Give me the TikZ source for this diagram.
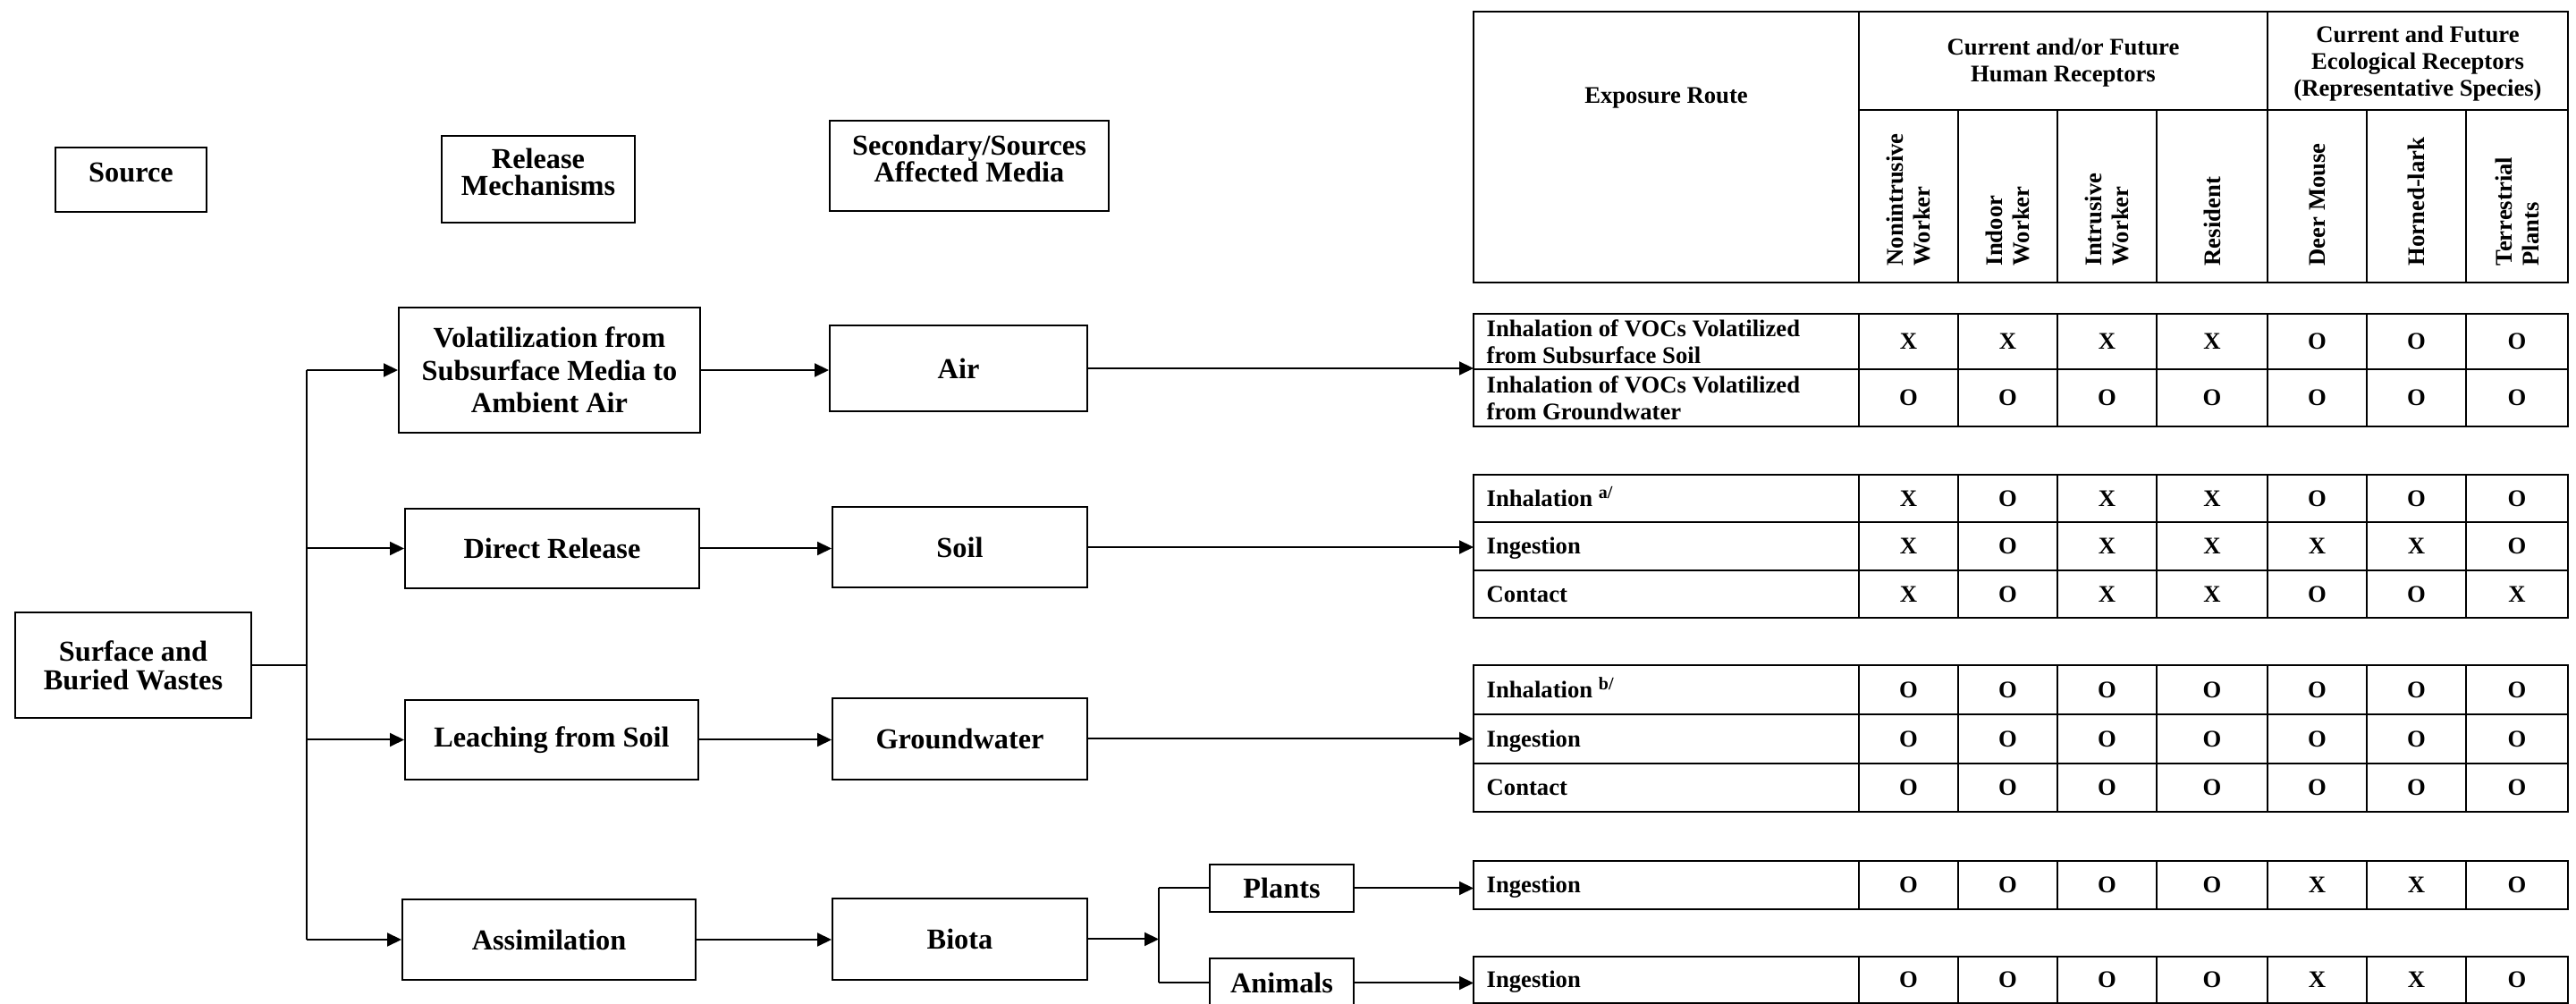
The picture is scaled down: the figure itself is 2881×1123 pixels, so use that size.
\documentclass[tikz,border=0pt]{standalone}
\usepackage{fontspec}
\setmainfont{Liberation Serif}
\usetikzlibrary{arrows.meta}
\newcommand\flowfont{\fontsize{9.7}{11}\selectfont\bfseries}
\newcommand\headfont{\fontsize{9.7}{9.2}\selectfont\bfseries}
\newcommand\tabfont{\fontsize{8}{9}\selectfont\bfseries}
\begin{document}
\begin{tikzpicture}[x=0.3pt,y=-0.3pt,
  fbox/.style 2 args={draw, line width=0.6pt, minimum width=#1*0.3pt, minimum height=#2*0.3pt, inner sep=0pt, align=center, font=\flowfont},
  hbox/.style={font=\headfont, text depth=5pt},
  arr/.style={line width=0.6pt, -{Triangle[length=4.8pt,width=4.5pt]}},
  conn/.style={line width=0.6pt},
  hline/.style={line width=0.75pt},
  vline/.style={line width=0.55pt},
  cell/.style={font=\tabfont, inner sep=0pt},
  rowlab/.style={font=\tabfont, anchor=west, align=left, inner sep=0pt},
  rowlabs/.style={font=\tabfont, anchor=base west, inner sep=0pt},
  colhead/.style={font=\tabfont, rotate=90, anchor=west, align=left, inner sep=0pt}]
\useasboundingbox (0,0) rectangle (2881,1123);

% ---------- header boxes ----------
\node[fbox={169}{72}, hbox] (src) at (146.5,201) {Source};
\node[fbox={216}{97}, hbox] (rel) at (602,200.5) {Release\\Mechanisms};
\node[fbox={312}{101}, hbox] (sec) at (1084,185.5) {Secondary/Sources\\Affected Media};

% ---------- flow boxes ----------
\node[fbox={264}{118}, font=\fontsize{9.7}{9.6}\selectfont\bfseries] (surf) at (149,744) {Surface and\\Buried Wastes};
\node[fbox={337}{140}] (vol) at (614.5,414) {Volatilization from\\Subsurface Media to\\Ambient Air};
\node[fbox={288}{96}] (air) at (1072,412) {Air};
\node[fbox={329}{89}] (dr) at (617.5,613.5) {Direct Release};
\node[fbox={285}{90}] (soil) at (1073.5,612) {Soil};
\node[fbox={328}{89}] (leach) at (617,827.5) {Leaching from Soil};
\node[fbox={285}{91}] (gw) at (1073.5,826.5) {Groundwater};
\node[fbox={328}{90}] (assim) at (614,1051) {Assimilation};
\node[fbox={285}{91}] (biota) at (1073.5,1050.5) {Biota};
\node[fbox={161}{53}] (plants) at (1433.5,993.5) {Plants};
\node[fbox={161}{54}] (animals) at (1433.5,1099.5) {Animals};

% ---------- connectors ----------
\coordinate (brM) at (343,744);
\coordinate (brTop) at (343,414);
\coordinate (brBot) at (343,1051);
\coordinate (tabL) at (1648,0);
\coordinate (bioBr) at (1296,1050.5);
\coordinate (bioTop) at (1296,993.5);
\coordinate (bioBot) at (1296,1099.5);

\draw[conn] (surf.east) -- (brM);
\draw[conn] (brTop) -- (brBot);
\draw[arr] (brTop) -- (vol.west);
\draw[arr] (dr.west -| brTop) -- (dr.west);
\draw[arr] (leach.west -| brTop) -- (leach.west);
\draw[arr] (brBot) -- (assim.west);

\draw[arr] (vol.east) -- (vol.east -| air.west);
\draw[arr] (dr.east) -- (dr.east -| soil.west);
\draw[arr] (leach.east) -- (leach.east -| gw.west);
\draw[arr] (assim.east) -- (assim.east -| biota.west);

\draw[arr] (air.east) -- (air.east -| tabL);
\draw[arr] (soil.east) -- (soil.east -| tabL);
\draw[arr] (gw.east) -- (gw.east -| tabL);

\draw[arr] (biota.east) -- (bioBr);
\draw[conn] (bioTop) -- (bioBot);
\draw[conn] (bioTop) -- (plants.west);
\draw[conn] (bioBot) -- (animals.west);
\draw[arr] (plants.east) -- (plants.east -| tabL);
\draw[arr] (animals.east) -- (animals.east -| tabL);

% ---------- table header ----------
\draw[hline] (1648,13) rectangle (2872,316);
\draw[vline] (2079,13) -- (2079,316);
\draw[vline] (2536,13) -- (2536,316);
\draw[hline] (2079,123) -- (2872,123);
\foreach \x in {2190,2301,2412,2647,2758} \draw[vline] (\x,123) -- (\x,316);

\node[cell] (hexp) at (1863.5,110) {Exposure Route};
\node[cell, align=center] (hhum) at (2307.5,70) {Current and/or Future\\Human Receptors};
\node[cell, align=center] (heco) at (2704,71) {Current and Future\\Ecological Receptors\\(Representative Species)};

\node[colhead] (c1) at (2134.5,298) {Nonintrusive\\Worker};
\node[colhead] (c2) at (2245.5,298) {Indoor\\Worker};
\node[colhead] (c3) at (2356.5,298) {Intrusive\\Worker};
\node[colhead] (c4) at (2474,298) {Resident};
\node[colhead] (c5) at (2591.5,298) {Deer Mouse};
\node[colhead] (c6) at (2702.5,298) {Horned-lark};
\node[colhead] (c7) at (2815,298) {Terrestrial\\Plants};

% ---------- table body ----------
\foreach \t/\b in {351/477, 531/691, 744/908, 963/1017, 1070/1122} {
  \draw[hline] (1648,\t) rectangle (2872,\b);
  \foreach \x in {2079,2190,2301,2412,2536,2647,2758} \draw[vline] (\x,\t) -- (\x,\b);
}
\foreach \y in {413,584,638,799,854} \draw[hline] (1648,\y) -- (2872,\y);

% row labels
\node[rowlab] (r1) at (1662,382) {Inhalation of VOCs Volatilized\\from Subsurface Soil};
\node[rowlab] (r2) at (1662,445) {Inhalation of VOCs Volatilized\\from Groundwater};
\node[rowlabs] (r3) at (1662,566.5) {Inhalation \textsuperscript{a/}};
\node[rowlabs] (r4) at (1662,620) {Ingestion};
\node[rowlabs] (r5) at (1662,673.5) {Contact};
\node[rowlabs] (r6) at (1662,780.5) {Inhalation \textsuperscript{b/}};
\node[rowlabs] (r7) at (1662,835.5) {Ingestion};
\node[rowlabs] (r8) at (1662,890) {Contact};
\node[rowlabs] (r9) at (1662,999) {Ingestion};
\node[rowlabs] (r10) at (1662,1105) {Ingestion};

% cell values
\foreach \r/\y/\vals in {
  1/382/{X,X,X,X,O,O,O},
  2/445/{O,O,O,O,O,O,O},
  3/557.5/{X,O,X,X,O,O,O},
  4/611/{X,O,X,X,X,X,O},
  5/664.5/{X,O,X,X,O,O,X},
  6/771.5/{O,O,O,O,O,O,O},
  7/826.5/{O,O,O,O,O,O,O},
  8/881/{O,O,O,O,O,O,O},
  9/990/{O,O,O,O,X,X,O},
  10/1096/{O,O,O,O,X,X,O}} {
  \foreach \v [count=\c] in \vals {
    \pgfmathsetmacro\cx{{2134.5,2245.5,2356.5,2474,2591.5,2702.5,2815}[\c-1]}
    \node[cell] (v\r-\c) at (\cx,\y) {\v};
  }
}
\end{tikzpicture}
\end{document}
